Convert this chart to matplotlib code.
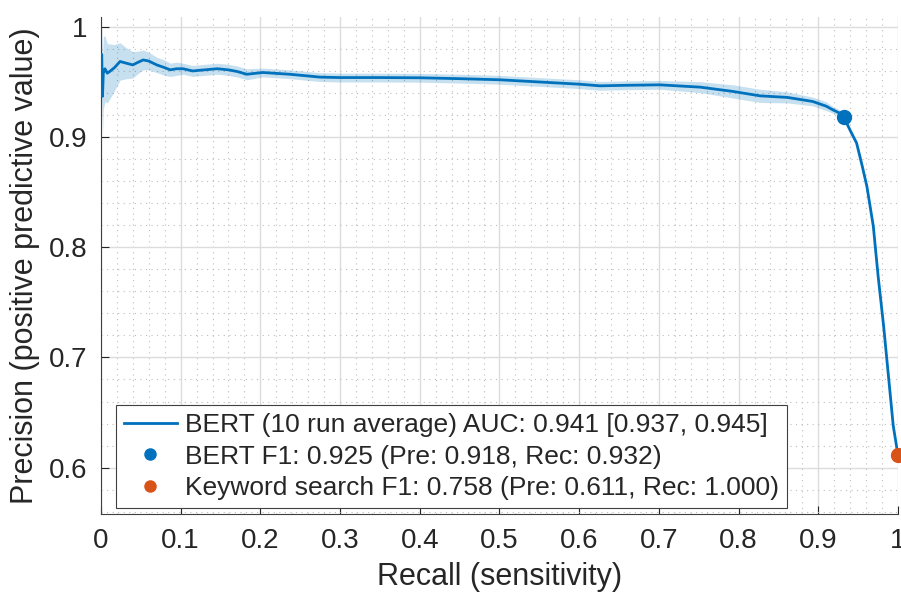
import numpy as np
import matplotlib
matplotlib.use('Agg')
import matplotlib.pyplot as plt
from matplotlib.ticker import MultipleLocator

plt.rcParams['font.family'] = ['Liberation Sans', 'DejaVu Sans']

# Mean precision-recall curve
recall = [0.000, 0.001, 0.002, 0.003, 0.005, 0.008, 0.011, 0.017, 0.024, 0.032,
          0.040, 0.047, 0.053, 0.060, 0.070, 0.080, 0.087, 0.095, 0.103, 0.115,
          0.130, 0.146, 0.160, 0.171, 0.183, 0.203, 0.237, 0.275, 0.300, 0.350,
          0.400, 0.450, 0.500, 0.550, 0.600, 0.626, 0.660, 0.701, 0.752, 0.793,
          0.827, 0.861, 0.893, 0.910, 0.918, 0.926, 0.932, 0.940, 0.948, 0.955,
          0.961, 0.969, 0.975, 0.982, 0.988, 0.994, 1.000]
precision = [0.955, 0.975, 0.937, 0.958, 0.962, 0.958, 0.9595, 0.963, 0.9686, 0.967,
             0.9655, 0.968, 0.970, 0.969, 0.9655, 0.963, 0.961, 0.962, 0.962, 0.960,
             0.961, 0.962, 0.961, 0.9595, 0.957, 0.9586, 0.957, 0.9544, 0.954, 0.954,
             0.9538, 0.953, 0.952, 0.950, 0.948, 0.9465, 0.947, 0.9474, 0.9453, 0.9414,
             0.9374, 0.936, 0.9323, 0.928, 0.9248, 0.922, 0.918, 0.906, 0.8946, 0.874,
             0.855, 0.819, 0.774, 0.728, 0.683, 0.638, 0.611]
# half width of the shaded band around the mean
band_half = [0.045, 0.040, 0.035, 0.033, 0.030, 0.027, 0.025, 0.021, 0.017, 0.014,
             0.012, 0.010, 0.009, 0.008, 0.007, 0.007, 0.006, 0.006, 0.005, 0.005,
             0.005, 0.005, 0.005, 0.005, 0.005, 0.004, 0.004, 0.004, 0.004, 0.004,
             0.004, 0.004, 0.004, 0.004, 0.004, 0.004, 0.004, 0.004, 0.005, 0.006,
             0.006, 0.005, 0.004, 0.004, 0.003, 0.003, 0.003, 0.002, 0.002, 0.002,
             0.002, 0.002, 0.002, 0.002, 0.002, 0.002, 0.001]

# Operating points
bert_rec, bert_pre = 0.932, 0.918
kw_rec, kw_pre = 1.000, 0.611

labels = ['BERT (10 run average) AUC: 0.941 [0.937, 0.945]',
          'BERT F1: 0.925 (Pre: 0.918, Rec: 0.932)',
          'Keyword search F1: 0.758 (Pre: 0.611, Rec: 1.000)']

blue = '#0072BD'
orange = '#D95319'
txt = '#262626'

fig = plt.figure(figsize=(9.01, 6.06), dpi=100)
ax = fig.add_axes([0.112, 0.152, 0.8847, 0.820])

r = np.array(recall)
p = np.array(precision)
h = np.array(band_half)
ax.fill_between(r, p - h, np.minimum(p + h, 1.0), color=blue, alpha=0.22, lw=0, zorder=2)
line, = ax.plot(r, p, color=blue, lw=2, zorder=3, label=labels[0])
d1, = ax.plot([bert_rec], [bert_pre], 'o', color=blue, ms=10, zorder=4, label=labels[1])
d2, = ax.plot([kw_rec], [kw_pre], 'o', color=orange, ms=10, zorder=4,
              clip_on=False, label=labels[2])

# Axes limits and ticks
ax.set_xlim(0, 1)
ax.set_ylim(0.558, 1.009)
ax.set_xticks(np.arange(0, 1.01, 0.1))
ax.set_xticklabels(['0', '0.1', '0.2', '0.3', '0.4', '0.5', '0.6', '0.7', '0.8', '0.9', '1'])
ax.set_yticks([0.6, 0.7, 0.8, 0.9, 1.0])
ax.set_yticklabels(['0.6', '0.7', '0.8', '0.9', '1'])
ax.xaxis.set_minor_locator(MultipleLocator(0.02))
ax.yaxis.set_minor_locator(MultipleLocator(0.02))
ax.tick_params(which='major', direction='in', length=6, width=0.8, colors=txt,
               labelsize=20, pad=10)
ax.tick_params(which='minor', length=0)

# Grid
ax.grid(which='major', color='#dcdcdc', lw=1.0, zorder=0)
ax.grid(which='minor', color='#bdbdbd', lw=0.8, ls=(0, (1, 4)), zorder=0)
ax.set_axisbelow(True)

for s in ['top', 'right']:
    ax.spines[s].set_visible(False)
for s in ['left', 'bottom']:
    ax.spines[s].set_color('#404040')
    ax.spines[s].set_linewidth(0.8)

ax.set_xlabel('Recall (sensitivity)', fontsize=22, color=txt, labelpad=6)
ax.set_ylabel('Precision (positive predictive value)', fontsize=22, color=txt, labelpad=6)

leg = ax.legend(handles=[line, d1, d2], loc='lower left', bbox_to_anchor=(0.019, 0.012),
                borderaxespad=0, fontsize=19, frameon=True, fancybox=False,
                edgecolor='#404040', framealpha=1, handlelength=2.0,
                handletextpad=0.3, labelspacing=0.28, borderpad=0.3, markerscale=0.8)
leg.get_frame().set_linewidth(0.8)
for t in leg.get_texts():
    t.set_color(txt)

plt.savefig('out.png', dpi=100)
